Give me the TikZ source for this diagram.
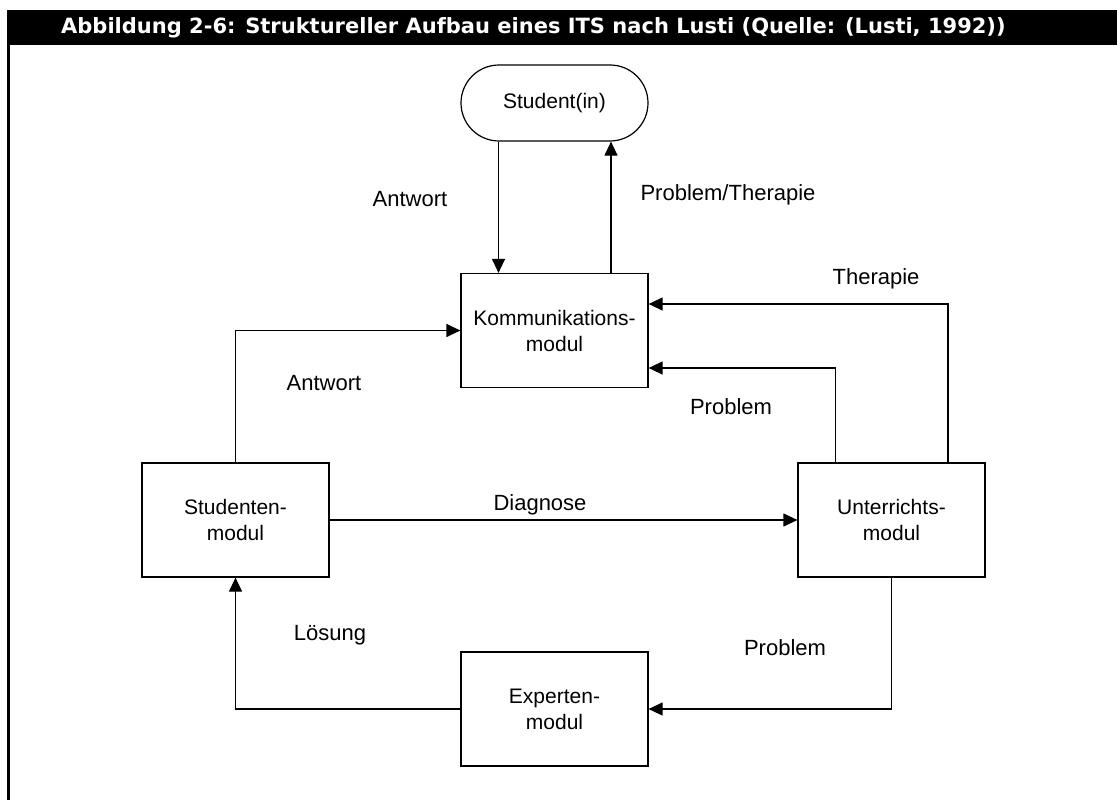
\documentclass[tikz,border=0pt]{standalone}
\usepackage{fontspec}
\setmainfont{Liberation Sans}
\newfontfamily\titlefont{DejaVu Sans}
\usetikzlibrary{arrows.meta}
\begin{document}
\begin{tikzpicture}[x=1pt,y=-1pt,
  txt/.style={font=\fontsize{21}{26}\selectfont},
  modbox/.style={txt, draw, line width=1.2pt, minimum width=187pt, minimum height=114pt,
                 align=center, inner sep=0pt},
  pill/.style={txt, draw, line width=1.2pt, rounded corners=38pt, minimum width=187pt,
               minimum height=76pt, inner sep=0pt},
  link/.style={line width=1.2pt},
  arr/.style={link, -{Triangle[length=14pt,width=13pt]}},
  lbl/.style={font=\fontsize{22}{26}\selectfont, inner sep=0pt}
]
\useasboundingbox (0,0) rectangle (1117,800);

% caption bar and left rule
\fill[black] (7,10) rectangle (1117,45);
\fill[black] (7,45) rectangle (10,800);
\node[anchor=west, text=white, inner sep=0pt,
      font=\titlefont\bfseries\fontsize{21}{24}\selectfont] (title) at (61,28)
  {Abbildung 2-6: Struktureller Aufbau eines ITS nach Lusti (Quelle: (Lusti, 1992))};

% modules
\node[pill]   (stud) at (554.5,103)   {Student(in)};
\node[modbox] (komm) at (554.5,330.5) {Kommunikations-\\modul};
\node[modbox] (smod) at (235.5,520)   {Studenten-\\modul};
\node[modbox] (umod) at (891.5,520)   {Unterrichts-\\modul};
\node[modbox] (emod) at (554.5,709)   {Experten-\\modul};

% connectors
\draw[arr] ([xshift=-56pt]stud.south) -- ([xshift=-56pt]komm.north);
\draw[arr] ([xshift=56.5pt]komm.north) -- ([xshift=56.5pt]stud.south);
\draw[arr] (smod.north) |- (komm.west);
\draw[arr] ([xshift=-56pt]umod.north) |- ([yshift=-37.5pt]komm.east);
\draw[arr] ([xshift=56.5pt]umod.north) |- ([yshift=26.5pt]komm.east);
\draw[arr] (smod.east) -- (umod.west);
\draw[arr] (umod.south) |- (emod.east);
\draw[arr] (emod.west) -| (smod.south);

% connector labels
\node[lbl] (antwortA) at (410,199) {Antwort};
\node[lbl] (probther) at (728,195) {Problem/Therapie};
\node[lbl] (therapie) at (876,279) {Therapie};
\node[lbl] (antwortB) at (324,383) {Antwort};
\node[lbl] (problemA) at (731,407) {Problem};
\node[lbl] (diagnose) at (540,505) {Diagnose};
\node[lbl] (loesung)  at (330,635) {Lösung};
\node[lbl] (problemB) at (785,648) {Problem};
\end{tikzpicture}
\end{document}
